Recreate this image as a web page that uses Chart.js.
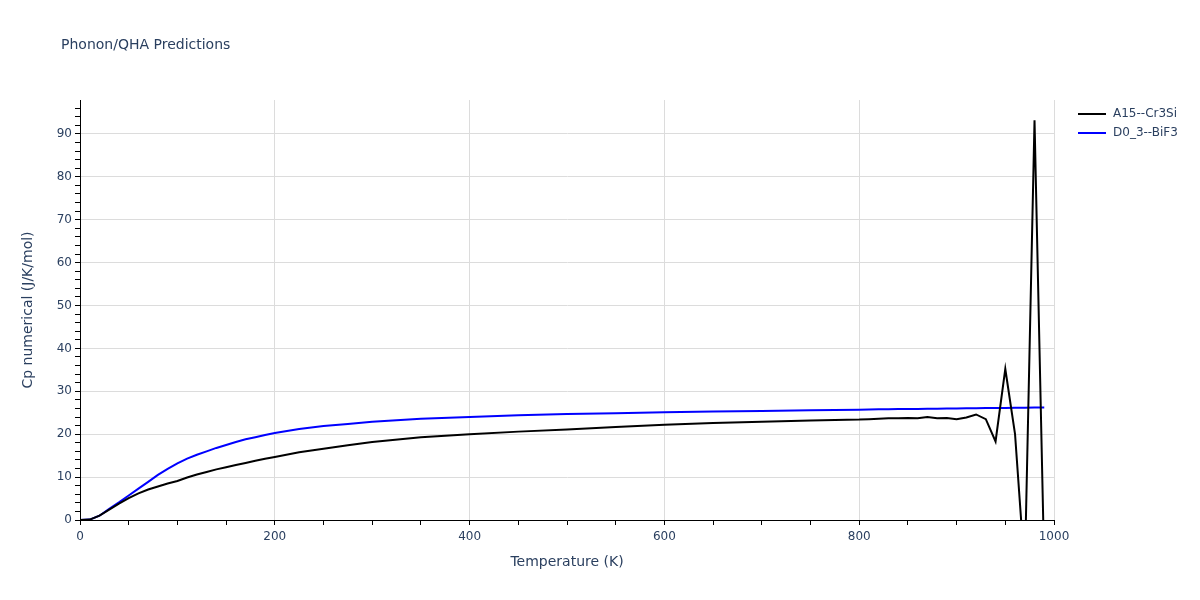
<!DOCTYPE html>
<html>
<head>
<meta charset="utf-8">
<script src="https://cdn.jsdelivr.net/npm/chart.js@4"></script>
<style>
  html, body { margin: 0; padding: 0; background: #ffffff; }
  #wrap { position: relative; width: 1200px; height: 600px; }
</style>
</head>
<body>
<div id="wrap"><canvas id="c" width="1200" height="600"></canvas></div>
<script>
// ---- data ----
const chartTitle = "Phonon/QHA Predictions";
const xAxisTitle = "Temperature (K)";
const yAxisTitle = "Cp numerical (J/K/mol)";
const seriesNames = ["A15--Cr3Si", "D0_3--BiF3"];
const seriesColors = ["#000000", "#0000ff"];

const temps = [0, 10, 20, 30, 40, 50, 60, 70, 80, 90, 100, 110, 120, 130, 140, 150, 160, 170, 180, 190, 200,
  225, 250, 275, 300, 350, 400, 450, 500, 550, 600, 650, 700, 750, 800,
  810, 820, 830, 840, 850, 860, 870, 880, 890, 900, 910, 920, 930, 940, 950, 960, 970, 980, 990];

const cpCr3Si = [0, 0.1, 1.0, 2.4, 3.8, 5.1, 6.2, 7.1, 7.8, 8.5, 9.1, 9.9, 10.6, 11.2, 11.8, 12.3, 12.8, 13.3, 13.8, 14.3, 14.7,
  15.8, 16.6, 17.4, 18.2, 19.3, 20.0, 20.6, 21.1, 21.7, 22.2, 22.6, 22.9, 23.2, 23.4,
  23.5, 23.6, 23.7, 23.7, 23.8, 23.7, 24.0, 23.7, 23.8, 23.5, 23.9, 24.6, 23.5, 18.3, 35.2, 20.0, -12.0, 93.2, -11.0];

const cpBiF3 = [0, 0.1, 1.0, 2.6, 4.1, 5.7, 7.3, 8.9, 10.5, 11.9, 13.2, 14.3, 15.2, 16.0, 16.8, 17.5, 18.2, 18.8, 19.3, 19.8, 20.3,
  21.2, 21.9, 22.4, 22.9, 23.6, 24.0, 24.4, 24.7, 24.9, 25.1, 25.3, 25.4, 25.6, 25.7,
  25.75, 25.8, 25.8, 25.85, 25.9, 25.9, 25.95, 25.95, 26.0, 26.0, 26.05, 26.05, 26.1, 26.1, 26.1, 26.15, 26.15, 26.2, 26.2];

const xMin = 0, xMax = 1000, xMinorStep = 50, xMajorStep = 200;
const yMin = 0, yMax = 97.9, yMinorStep = 2, yMajorStep = 10;

// ---- styling ----
const textColor = "#2a3f5f";
const gridColor = "#dcdcdc";
Chart.defaults.font.family = "'DejaVu Sans', Verdana, sans-serif";
Chart.defaults.color = textColor;

function toPoints(xs, ys) { return xs.map((x, i) => ({ x: x, y: ys[i] })); }

const isMult = (v, m) => Math.abs(v / m - Math.round(v / m)) < 1e-6;

const decorPlugin = {
  id: 'decor',
  afterDraw(chart) {
    const ctx = chart.ctx;
    ctx.save();
    // title
    ctx.fillStyle = textColor;
    ctx.font = "14px 'DejaVu Sans', Verdana, sans-serif";
    ctx.textAlign = 'left';
    ctx.textBaseline = 'middle';
    ctx.fillText(chartTitle, 61, 45);
    // legend
    ctx.font = "12px 'DejaVu Sans', Verdana, sans-serif";
    chart.data.datasets.forEach((ds, i) => {
      const y = 114 + i * 19;
      ctx.strokeStyle = ds.borderColor;
      ctx.lineWidth = 2;
      ctx.beginPath();
      ctx.moveTo(1078, y);
      ctx.lineTo(1106, y);
      ctx.stroke();
      ctx.fillStyle = textColor;
      ctx.fillText(ds.label, 1113, y);
    });
    ctx.restore();
  }
};

new Chart(document.getElementById('c'), {
  type: 'line',
  data: {
    datasets: [
      {
        label: seriesNames[0],
        data: toPoints(temps, cpCr3Si),
        borderColor: seriesColors[0],
        backgroundColor: seriesColors[0],
        borderWidth: 2,
        pointRadius: 0,
        tension: 0,
        fill: false
      },
      {
        label: seriesNames[1],
        data: toPoints(temps, cpBiF3),
        borderColor: seriesColors[1],
        backgroundColor: seriesColors[1],
        borderWidth: 2,
        pointRadius: 0,
        tension: 0,
        fill: false
      }
    ]
  },
  options: {
    responsive: false,
    animation: false,
    devicePixelRatio: 1,
    layout: { padding: { left: 0, right: 146, top: 100, bottom: 0 } },
    plugins: {
      legend: { display: false },
      title: { display: false },
      tooltip: { enabled: false }
    },
    scales: {
      x: {
        type: 'linear',
        min: xMin,
        max: xMax,
        afterFit(scale) { scale.height = 80; },
        border: { display: true, color: '#000000', width: 1 },
        grid: {
          color: (c) => (c.tick && isMult(c.tick.value, xMajorStep) && c.tick.value !== xMin) ? gridColor : 'rgba(0,0,0,0)',
          tickColor: '#000000',
          tickLength: 5,
          lineWidth: 1,
          drawTicks: true
        },
        ticks: {
          stepSize: xMinorStep,
          autoSkip: false,
          maxRotation: 0,
          includeBounds: false,
          padding: 5,
          color: textColor,
          font: { size: 12 },
          callback: (v) => isMult(v, xMajorStep) ? String(v) : ''
        },
        title: {
          display: true,
          text: xAxisTitle,
          color: textColor,
          font: { size: 14 },
          padding: { top: 0, bottom: 29 }
        }
      },
      y: {
        type: 'linear',
        min: yMin,
        max: yMax,
        afterFit(scale) { scale.width = 80; },
        border: { display: true, color: '#000000', width: 1 },
        grid: {
          color: (c) => (c.tick && isMult(c.tick.value, yMajorStep) && c.tick.value !== yMin) ? gridColor : 'rgba(0,0,0,0)',
          tickColor: '#000000',
          tickLength: 5,
          lineWidth: 1,
          drawTicks: true
        },
        ticks: {
          stepSize: yMinorStep,
          autoSkip: false,
          includeBounds: false,
          padding: 3,
          color: textColor,
          font: { size: 12 },
          callback: (v) => isMult(v, yMajorStep) ? String(v) : ''
        },
        title: {
          display: true,
          text: yAxisTitle,
          color: textColor,
          font: { size: 14 },
          padding: { top: 20, bottom: 0 }
        }
      }
    }
  },
  plugins: [decorPlugin]
});
</script>
</body>
</html>
